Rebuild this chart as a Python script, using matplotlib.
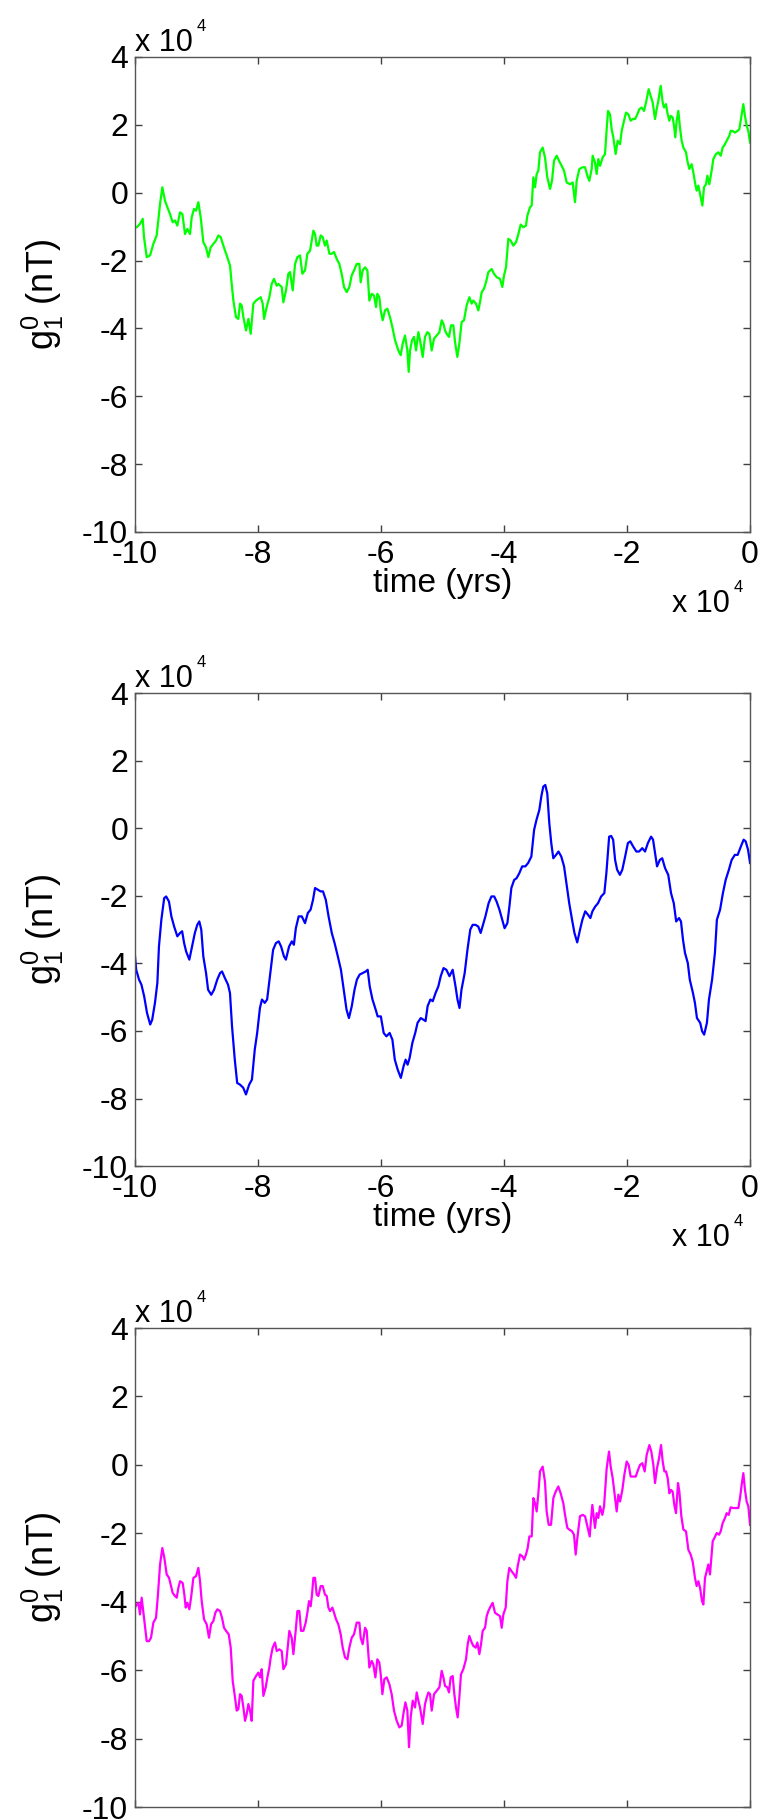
import matplotlib.pyplot as plt

# time in units of 1e4 yrs, g10 in units of 1e4 nT (the "x 10^4" factor is drawn as text)
t_green = [-10.000, -9.973, -9.919, -9.875, -9.854, -9.810, -9.756, -9.702, -9.648, -9.593,
           -9.556, -9.512, -9.474, -9.431, -9.388, -9.350, -9.312, -9.268, -9.230, -9.187,
           -9.149, -9.106, -9.079, -9.041, -9.008, -8.970, -8.932, -8.889, -8.846, -8.808,
           -8.770, -8.726, -8.683, -8.645, -8.607, -8.564, -8.509, -8.455, -8.428, -8.401,
           -8.358, -8.320, -8.293, -8.266, -8.238, -8.195, -8.157, -8.119, -8.076, -8.033,
           -7.995, -7.957, -7.924, -7.902, -7.859, -7.816, -7.778, -7.740, -7.696, -7.669,
           -7.615, -7.588, -7.545, -7.507, -7.480, -7.436, -7.398, -7.360, -7.317, -7.279,
           -7.236, -7.198, -7.154, -7.127, -7.100, -7.073, -7.046, -7.019, -6.981, -6.949,
           -6.911, -6.883, -6.840, -6.802, -6.764, -6.721, -6.678, -6.640, -6.602, -6.558,
           -6.515, -6.477, -6.439, -6.396, -6.352, -6.331, -6.298, -6.260, -6.222, -6.190,
           -6.152, -6.114, -6.081, -6.060, -6.027, -6.005, -5.973, -5.935, -5.897, -5.854,
           -5.810, -5.772, -5.718, -5.680, -5.648, -5.610, -5.572, -5.550, -5.528, -5.496,
           -5.463, -5.431, -5.393, -5.366, -5.322, -5.285, -5.247, -5.214, -5.176, -5.138,
           -5.095, -5.051, -5.014, -4.986, -4.959,
           -4.933, -4.895, -4.862, -4.824, -4.797, -4.759, -4.727, -4.689, -4.651, -4.607,
           -4.564, -4.526, -4.499, -4.456, -4.418, -4.391, -4.363, -4.326, -4.293, -4.255,
           -4.201, -4.163, -4.120, -4.065, -4.027, -4.000, -3.968, -3.930, -3.892, -3.849,
           -3.805, -3.767, -3.729, -3.686, -3.643, -3.621, -3.578, -3.551, -3.523, -3.496,
           -3.469, -3.442, -3.415, -3.372, -3.334, -3.296, -3.252, -3.220, -3.187, -3.144,
           -3.106, -3.063, -3.025, -2.981, -2.927, -2.884, -2.846, -2.819, -2.775, -2.721,
           -2.683, -2.645, -2.613, -2.575, -2.559, -2.521, -2.494, -2.467, -2.439, -2.396,
           -2.358, -2.331, -2.309, -2.277, -2.250, -2.223, -2.185, -2.152, -2.114, -2.087,
           -2.049, -2.017, -1.979, -1.941, -1.908, -1.870, -1.832, -1.800, -1.762, -1.724,
           -1.691, -1.648, -1.616, -1.583, -1.545, -1.518, -1.491, -1.453, -1.420, -1.399,
           -1.366, -1.345, -1.312, -1.290, -1.258, -1.236, -1.215, -1.193, -1.166, -1.139,
           -1.112, -1.084, -1.041, -1.019, -0.987, -0.949, -0.922, -0.895, -0.868, -0.840,
           -0.813, -0.775, -0.748, -0.716, -0.694, -0.662, -0.624, -0.597, -0.553, -0.515,
           -0.477, -0.445, -0.407, -0.380, -0.336, -0.315, -0.282, -0.244, -0.206, -0.174,
           -0.136, -0.109, -0.082, -0.055, -0.028, 0.000]
g_green = [-1.02, -1.02, -0.92, -0.77, -1.31, -1.90, -1.85, -1.51, -1.26, -0.33,
           0.16, -0.24, -0.43, -0.63, -0.87, -0.82, -0.97, -0.58, -0.63, -1.22,
           -1.07, -1.22, -0.73, -0.48, -0.53, -0.28, -0.73, -1.46, -1.61, -1.90,
           -1.61, -1.51, -1.41, -1.26, -1.31, -1.56, -1.85, -2.15, -2.69, -3.18,
           -3.67, -3.72, -3.27, -3.32, -3.67, -4.06, -3.72, -4.16, -3.27, -3.18,
           -3.13, -3.08, -3.27, -3.72, -3.37, -3.08, -2.69, -2.54, -2.74, -2.69,
           -2.78, -3.23, -2.88, -2.39, -2.34, -2.88, -2.10, -1.90, -1.85, -2.39,
           -2.29, -1.80, -1.71, -1.41, -1.12, -1.22, -1.56, -1.56, -1.26, -1.31,
           -1.56, -1.41, -1.80, -1.80, -1.75, -1.95, -2.10, -2.39, -2.78, -2.93,
           -2.78, -2.44, -2.29, -2.10, -2.10, -2.64, -2.29, -2.20, -2.29, -3.18,
           -2.98, -3.03, -3.37, -2.98, -3.08, -3.47, -3.76, -3.47, -3.42, -3.67,
           -4.01, -4.35, -4.65, -4.79, -4.45, -4.21, -4.65, -5.28, -4.65, -4.35,
           -4.25, -4.65, -4.11, -4.35, -4.84, -4.25, -4.11, -4.16, -4.65, -4.30,
           -4.21, -4.11, -3.76, -3.86, -4.06,
           -4.16, -4.25, -3.91, -3.91, -4.40, -4.84, -4.45, -3.81, -3.76, -3.32,
           -3.08, -3.27, -3.18, -3.27, -3.47, -3.23, -2.93, -2.83, -2.64, -2.34,
           -2.25, -2.39, -2.49, -2.54, -2.78, -2.44, -2.20, -1.36, -1.41, -1.56,
           -1.46, -1.22, -0.94, -1.02, -0.97, -0.68, -0.43, -0.38, 0.45, 0.16,
           0.55, 0.65, 1.19, 1.33, 1.04, 0.45, 0.11, 0.35, 0.94, 1.09,
           0.94, 0.79, 0.65, 0.30, 0.25, 0.30, -0.28, 0.35, 0.70, 0.75,
           0.75, 0.50, 0.35, 0.70, 1.09, 0.89, 0.55, 0.99, 0.79, 1.04,
           1.14, 1.87, 2.41, 2.31, 1.87, 1.63, 1.14, 1.53, 1.43, 1.82,
           2.12, 2.36, 2.31, 2.12, 2.17, 2.17, 2.31, 2.46, 2.51, 2.41,
           2.66, 3.05, 2.85, 2.66, 2.17, 2.46, 2.71, 3.15, 2.66, 2.51,
           2.61, 2.36, 2.12, 2.26, 2.22, 1.97, 1.63, 2.12, 2.41, 1.92,
           1.53, 1.33, 1.19, 0.94, 0.70, 0.84, 0.60, 0.30, 0.06, 0.21,
           -0.04, -0.38, 0.16, 0.25, 0.50, 0.25, 0.65, 0.99, 1.14, 1.19,
           1.09, 1.33, 1.43, 1.53, 1.68, 1.82, 1.82, 1.77, 1.82, 1.87,
           2.31, 2.61, 2.26, 1.97, 1.82, 1.48]

t_blue = [-10.000, -9.981, -9.935, -9.896, -9.851, -9.805, -9.753, -9.721, -9.676, -9.637,
          -9.611, -9.572, -9.526, -9.494, -9.448, -9.409, -9.364, -9.312, -9.267, -9.234,
          -9.202, -9.169, -9.117, -9.072, -9.027, -8.988, -8.955, -8.923, -8.890, -8.845,
          -8.812, -8.761, -8.715, -8.663, -8.618, -8.585, -8.540, -8.488, -8.456, -8.423,
          -8.378, -8.339, -8.293, -8.241, -8.196, -8.144, -8.099, -8.053, -8.014, -7.969,
          -7.936, -7.891, -7.852, -7.807, -7.755, -7.709, -7.664, -7.625, -7.579, -7.547,
          -7.495, -7.450, -7.417, -7.385, -7.339, -7.288, -7.236, -7.190, -7.145, -7.106,
          -7.073, -7.028, -6.983, -6.944, -6.898, -6.853, -6.801, -6.755, -6.703, -6.652,
          -6.606, -6.561, -6.522, -6.476, -6.431, -6.392, -6.347, -6.301, -6.249, -6.217,
          -6.184, -6.139, -6.087, -6.055, -6.003, -5.957, -5.912, -5.860, -5.815, -5.776,
          -5.730, -5.678, -5.633, -5.600, -5.568, -5.535, -5.490, -5.444, -5.406, -5.354,
          -5.308, -5.276, -5.243, -5.198, -5.159, -5.114, -5.068, -5.029, -4.984, -4.938,
          -4.887, -4.835, -4.789, -4.757, -4.724, -4.692, -4.640, -4.595, -4.549, -4.510,
          -4.465, -4.419, -4.380, -4.335, -4.303, -4.251, -4.205, -4.160, -4.121, -4.075,
          -4.030, -3.991, -3.946, -3.913, -3.881, -3.835, -3.796, -3.751, -3.705, -3.654,
          -3.608, -3.556, -3.511, -3.472, -3.426, -3.394, -3.362, -3.329, -3.297, -3.264,
          -3.232, -3.199, -3.154, -3.115, -3.069, -3.024, -2.985, -2.940, -2.894, -2.855,
          -2.810, -2.764, -2.726, -2.680, -2.635, -2.596, -2.563, -2.518, -2.472, -2.421,
          -2.369, -2.336, -2.291, -2.258, -2.226, -2.194, -2.161, -2.116, -2.077, -2.031,
          -1.986, -1.947, -1.901, -1.849, -1.804, -1.752, -1.707, -1.661, -1.609, -1.577,
          -1.544, -1.512, -1.467, -1.428, -1.382, -1.330, -1.285, -1.240, -1.201, -1.155,
          -1.123, -1.090, -1.058, -1.012, -0.980, -0.928, -0.896, -0.863, -0.811, -0.779,
          -0.746, -0.701, -0.668, -0.617, -0.571, -0.539, -0.487, -0.441, -0.396, -0.344,
          -0.299, -0.247, -0.201, -0.149, -0.104, -0.071, -0.032, 0.000]
g_blue = [-3.79, -4.19, -4.48, -4.63, -4.98, -5.47, -5.81, -5.67, -5.17, -4.58,
          -3.50, -2.71, -2.07, -2.02, -2.17, -2.61, -2.91, -3.20, -3.10, -3.05,
          -3.40, -3.65, -3.89, -3.50, -3.10, -2.86, -2.76, -3.00, -3.79, -4.29,
          -4.78, -4.93, -4.78, -4.48, -4.29, -4.24, -4.43, -4.63, -4.88, -5.86,
          -6.85, -7.54, -7.59, -7.68, -7.88, -7.59, -7.44, -6.55, -6.06, -5.32,
          -5.07, -5.17, -5.07, -4.38, -3.60, -3.40, -3.35, -3.50, -3.79, -3.89,
          -3.50, -3.35, -3.45, -2.96, -2.61, -2.61, -2.81, -2.51, -2.41, -2.12,
          -1.77, -1.82, -1.87, -1.87, -2.12, -2.61, -3.10, -3.40, -3.79, -4.19,
          -4.78, -5.37, -5.62, -5.27, -4.78, -4.48, -4.33, -4.29, -4.24, -4.19,
          -4.68, -5.07, -5.37, -5.57, -5.57, -6.06, -6.16, -6.06, -6.26, -6.85,
          -7.14, -7.39, -7.04, -6.85, -7.00, -6.80, -6.35, -6.06, -5.76, -5.62,
          -5.67, -5.71, -5.27, -5.07, -5.12, -4.88, -4.68, -4.38, -4.14, -4.19,
          -4.38, -4.19, -4.68, -5.07, -5.32, -4.78, -4.29, -3.60, -3.00, -2.86,
          -2.86, -2.91, -3.10, -2.81, -2.61, -2.22, -2.02, -2.02, -2.17, -2.41,
          -2.71, -2.96, -2.81, -2.32, -1.77, -1.53, -1.48, -1.33, -1.13, -1.13,
          -1.03, -0.84, -0.05, 0.25, 0.54, 0.94, 1.23, 1.28, 1.03, 0.15,
          -0.44, -0.89, -0.79, -0.69, -0.84, -1.13, -1.63, -2.22, -2.71, -3.10,
          -3.38, -3.00, -2.71, -2.46, -2.56, -2.66, -2.46, -2.32, -2.22, -2.02,
          -1.92, -1.33, -0.25, -0.23, -0.34, -0.94, -1.23, -1.38, -1.23, -0.84,
          -0.44, -0.39, -0.54, -0.69, -0.69, -0.59, -0.69, -0.44, -0.25, -0.34,
          -0.74, -1.13, -0.94, -0.89, -1.18, -1.38, -1.92, -2.22, -2.76, -2.66,
          -2.76, -3.30, -3.69, -3.99, -4.48, -4.88, -5.17, -5.62, -5.76, -6.01,
          -6.11, -5.76, -5.07, -4.48, -3.69, -2.71, -2.41, -1.92, -1.53, -1.23,
          -0.94, -0.79, -0.79, -0.54, -0.34, -0.39, -0.64, -1.03]

t_mag = [-10.000, -9.973, -9.946, -9.919, -9.892, -9.864, -9.837, -9.810, -9.772, -9.740,
         -9.702, -9.659, -9.631, -9.593, -9.556, -9.523, -9.485, -9.447, -9.420, -9.388,
         -9.350, -9.322, -9.295, -9.268, -9.225, -9.198, -9.176, -9.149, -9.117, -9.089,
         -9.051, -9.008, -8.970, -8.943, -8.916, -8.878, -8.835, -8.797, -8.764, -8.726,
         -8.694, -8.661, -8.618, -8.585, -8.553, -8.520, -8.477, -8.444, -8.412, -8.374,
         -8.347, -8.320, -8.293, -8.266, -8.238, -8.211, -8.184, -8.157, -8.130, -8.103,
         -8.076, -8.033, -7.995, -7.967, -7.940, -7.913, -7.875, -7.848, -7.816, -7.794,
         -7.762, -7.724, -7.696, -7.653, -7.615, -7.588, -7.545, -7.518, -7.491, -7.453,
         -7.425, -7.388, -7.360, -7.328, -7.301, -7.263, -7.225, -7.198, -7.171, -7.144,
         -7.122, -7.100, -7.073, -7.046, -7.019, -6.981, -6.949, -6.911, -6.883, -6.856,
         -6.829, -6.791, -6.764, -6.732, -6.694, -6.656, -6.623, -6.585, -6.547, -6.515,
         -6.477, -6.439, -6.396, -6.352, -6.331, -6.298, -6.260, -6.233, -6.190, -6.152,
         -6.125, -6.092, -6.060, -6.027, -6.005, -5.978, -5.946, -5.908, -5.864, -5.827,
         -5.789, -5.745, -5.702, -5.664, -5.637, -5.604, -5.572, -5.545, -5.518, -5.485,
         -5.447, -5.420, -5.393, -5.366, -5.322, -5.285, -5.257, -5.230, -5.203, -5.176,
         -5.138, -5.095, -5.051, -5.014, -4.986, -4.959,
         -4.922, -4.895, -4.868, -4.835, -4.808, -4.781, -4.754, -4.727, -4.700, -4.662,
         -4.618, -4.591, -4.564, -4.526, -4.499, -4.461, -4.434, -4.401, -4.374, -4.347,
         -4.309, -4.282, -4.255, -4.217, -4.185, -4.147, -4.109, -4.065, -4.038, -4.011,
         -3.973, -3.946, -3.914, -3.876, -3.838, -3.805, -3.778, -3.740, -3.702, -3.675,
         -3.643, -3.616, -3.588, -3.550, -3.523, -3.496, -3.469, -3.442, -3.415, -3.372,
         -3.334, -3.307, -3.274, -3.236, -3.198, -3.160, -3.117, -3.079, -3.036, -3.008,
         -2.971, -2.938, -2.895, -2.862, -2.835, -2.808, -2.765, -2.721, -2.683, -2.645,
         -2.607, -2.586, -2.564, -2.521, -2.494, -2.467, -2.439, -2.401, -2.374, -2.331,
         -2.293, -2.266, -2.233, -2.195, -2.168, -2.141, -2.114, -2.076, -2.044, -2.006,
         -1.973, -1.941, -1.897, -1.859, -1.822, -1.789, -1.751, -1.713, -1.681, -1.637,
         -1.605, -1.572, -1.545, -1.513, -1.480, -1.447, -1.420, -1.393, -1.366, -1.339,
         -1.312, -1.285, -1.258, -1.231, -1.204, -1.171, -1.149, -1.117, -1.084, -1.041,
         -1.003, -0.965, -0.933, -0.895, -0.868, -0.840, -0.813, -0.781, -0.759, -0.732,
         -0.705, -0.678, -0.651, -0.607, -0.580, -0.542, -0.504, -0.477, -0.445, -0.407,
         -0.380, -0.347, -0.315, -0.271, -0.228, -0.190, -0.163, -0.136, -0.109, -0.082,
         -0.055, -0.028, 0.000]
g_mag = [-4.17, -4.08, -4.03, -4.37, -3.88, -4.32, -4.76, -5.15, -5.15, -5.05,
         -4.61, -4.47, -3.88, -2.91, -2.43, -2.72, -3.20, -3.30, -3.50, -3.74,
         -3.83, -3.88, -3.59, -3.40, -3.45, -3.79, -4.17, -4.03, -4.22, -3.88,
         -3.30, -3.25, -3.01, -3.40, -3.98, -4.51, -4.66, -5.05, -4.66, -4.56,
         -4.32, -4.22, -4.27, -4.47, -4.76, -4.85, -4.95, -5.34, -6.31, -6.80,
         -7.18, -7.14, -6.70, -6.75, -7.09, -7.48, -7.28, -6.99, -7.18, -7.48,
         -6.31, -6.17, -6.07, -6.21, -5.97, -6.75, -6.50, -6.21, -5.92, -5.63,
         -5.34, -5.19, -5.44, -5.39, -5.44, -5.97, -5.83, -5.34, -4.85, -5.05,
         -5.53, -4.85, -4.27, -4.27, -4.85, -4.85, -4.61, -4.32, -3.98, -4.13,
         -3.79, -3.30, -3.30, -3.79, -3.83, -3.54, -3.54, -3.79, -3.83, -4.17,
         -4.27, -4.17, -4.32, -4.51, -4.66, -4.95, -5.34, -5.63, -5.68, -5.34,
         -5.05, -4.95, -4.61, -4.61, -5.05, -5.24, -4.76, -4.85, -5.92, -5.73,
         -5.83, -6.21, -5.68, -5.78, -6.12, -6.70, -6.26, -6.21, -6.41, -6.70,
         -7.18, -7.48, -7.67, -7.62, -7.28, -6.94, -7.18, -8.25, -7.38, -6.89,
         -7.09, -6.65, -6.89, -7.09, -7.57, -6.99, -6.80, -6.65, -6.70, -7.18,
         -6.70, -6.60, -6.50, -6.02, -6.21, -6.46,
         -6.50, -6.65, -6.21, -6.17, -6.70, -7.09, -7.38, -6.80, -6.12, -5.97,
         -5.68, -5.24, -5.00, -5.19, -5.29, -5.34, -5.19, -5.53, -5.24, -4.85,
         -4.76, -4.42, -4.27, -4.13, -4.03, -4.32, -4.37, -4.42, -4.76, -4.37,
         -4.17, -3.40, -3.01, -3.11, -3.20, -3.30, -2.96, -2.62, -2.67, -2.77,
         -2.62, -2.43, -2.09, -2.09, -0.97, -1.12, -1.36, -0.83, -0.19, -0.05,
         -0.49, -1.36, -1.75, -1.75, -0.97, -0.78, -0.63, -0.83, -1.12, -1.46,
         -1.84, -1.89, -1.94, -2.04, -2.62, -2.14, -1.50, -1.46, -1.50, -1.80,
         -2.09, -1.60, -1.17, -1.84, -1.41, -1.55, -1.21, -1.46, -1.21, -0.10,
         0.39, -0.05, -0.39, -0.97, -1.36, -0.87, -1.07, -0.73, -0.29, 0.10,
         0.00, -0.34, -0.34, -0.34, -0.15, 0.00, 0.05, -0.19, 0.29, 0.58,
         0.39, 0.00, -0.53, -0.10, 0.19, 0.58, 0.10, -0.19, -0.19, -0.39,
         -0.83, -0.73, -0.78, -1.17, -1.41, -0.53, -0.78, -1.50, -1.89, -1.94,
         -2.48, -2.62, -2.82, -3.30, -3.54, -3.40, -3.59, -3.98, -4.08, -3.30,
         -3.11, -2.91, -3.20, -2.23, -2.14, -1.99, -2.04, -1.94, -1.70, -1.55,
         -1.41, -1.46, -1.24, -1.26, -1.26, -1.26, -0.97, -0.58, -0.24, -0.73,
         -1.07, -1.21, -1.75]

x_ticks = [-10, -8, -6, -4, -2, 0]
y_ticks = [-10, -8, -6, -4, -2, 0, 2, 4]

plt.rcParams['font.family'] = ['Liberation Sans', 'DejaVu Sans']
plt.rcParams['mathtext.fontset'] = 'custom'
plt.rcParams['mathtext.rm'] = 'Liberation Sans'
plt.rcParams['mathtext.it'] = 'Liberation Sans:italic'
plt.rcParams['axes.unicode_minus'] = False

font_size = 23
fig = plt.figure(figsize=(7.62, 18.2), dpi=100)

# [left, bottom, width, height] of the three panels
boxes = [[0.1772, 0.7077, 0.8071, 0.2610],
         [0.1772, 0.3593, 0.8071, 0.2599],
         [0.1772, 0.0071, 0.8071, 0.2632]]
series = [(t_green, g_green, '#00ff00'),
          (t_blue, g_blue, '#0000ff'),
          (t_mag, g_mag, '#ff00ff')]


def scale_label(ax, xy, xytext, ha):
    # "x 10^4" scale factor the MATLAB way, exponent drawn as a small separate text
    base = ax.annotate('x 10', xy=xy, xycoords='axes fraction', xytext=xytext,
                       textcoords='offset points', ha=ha, va='baseline', fontsize=22)
    ax.annotate('4', xy=(1, 0), xycoords=base, xytext=(2.5, 19.5),
                textcoords='offset points', ha='left', va='baseline', fontsize=12)


for i, (box, (t, g, col)) in enumerate(zip(boxes, series)):
    ax = fig.add_axes(box)
    ax.plot(t, g, color=col, linewidth=1.6)

    ax.set_xlim(-10, 0)
    ax.set_ylim(-10, 4)
    ax.set_xticks(x_ticks)
    ax.set_yticks(y_ticks)
    ax.set_xticklabels([str(v) for v in x_ticks])
    ax.set_yticklabels([str(v) for v in y_ticks])
    ax.tick_params(direction='in', length=5, width=1, top=True, right=True,
                   labelsize=font_size, colors='#404040', labelcolor='black')
    ax.tick_params(axis='x', pad=6)
    ax.tick_params(axis='y', pad=5)
    for sp in ax.spines.values():
        sp.set_color('#555555')
        sp.set_linewidth(1)

    ax.set_ylabel(r'$\mathrm{g}_1^0$ (nT)', fontsize=26)
    ax.yaxis.set_label_coords(-0.112, 0.5)

    # scale factor above the y axis
    scale_label(ax, (0, 1), (0, 4.3), 'left')

    if i < 2:
        ax.set_xlabel('time (yrs)', fontsize=24, labelpad=-2)
        scale_label(ax, (1, 0), (-14.4, -57.6), 'right')
    else:
        ax.tick_params(axis='x', labelbottom=False)

fig.savefig('out.png', dpi=100)
